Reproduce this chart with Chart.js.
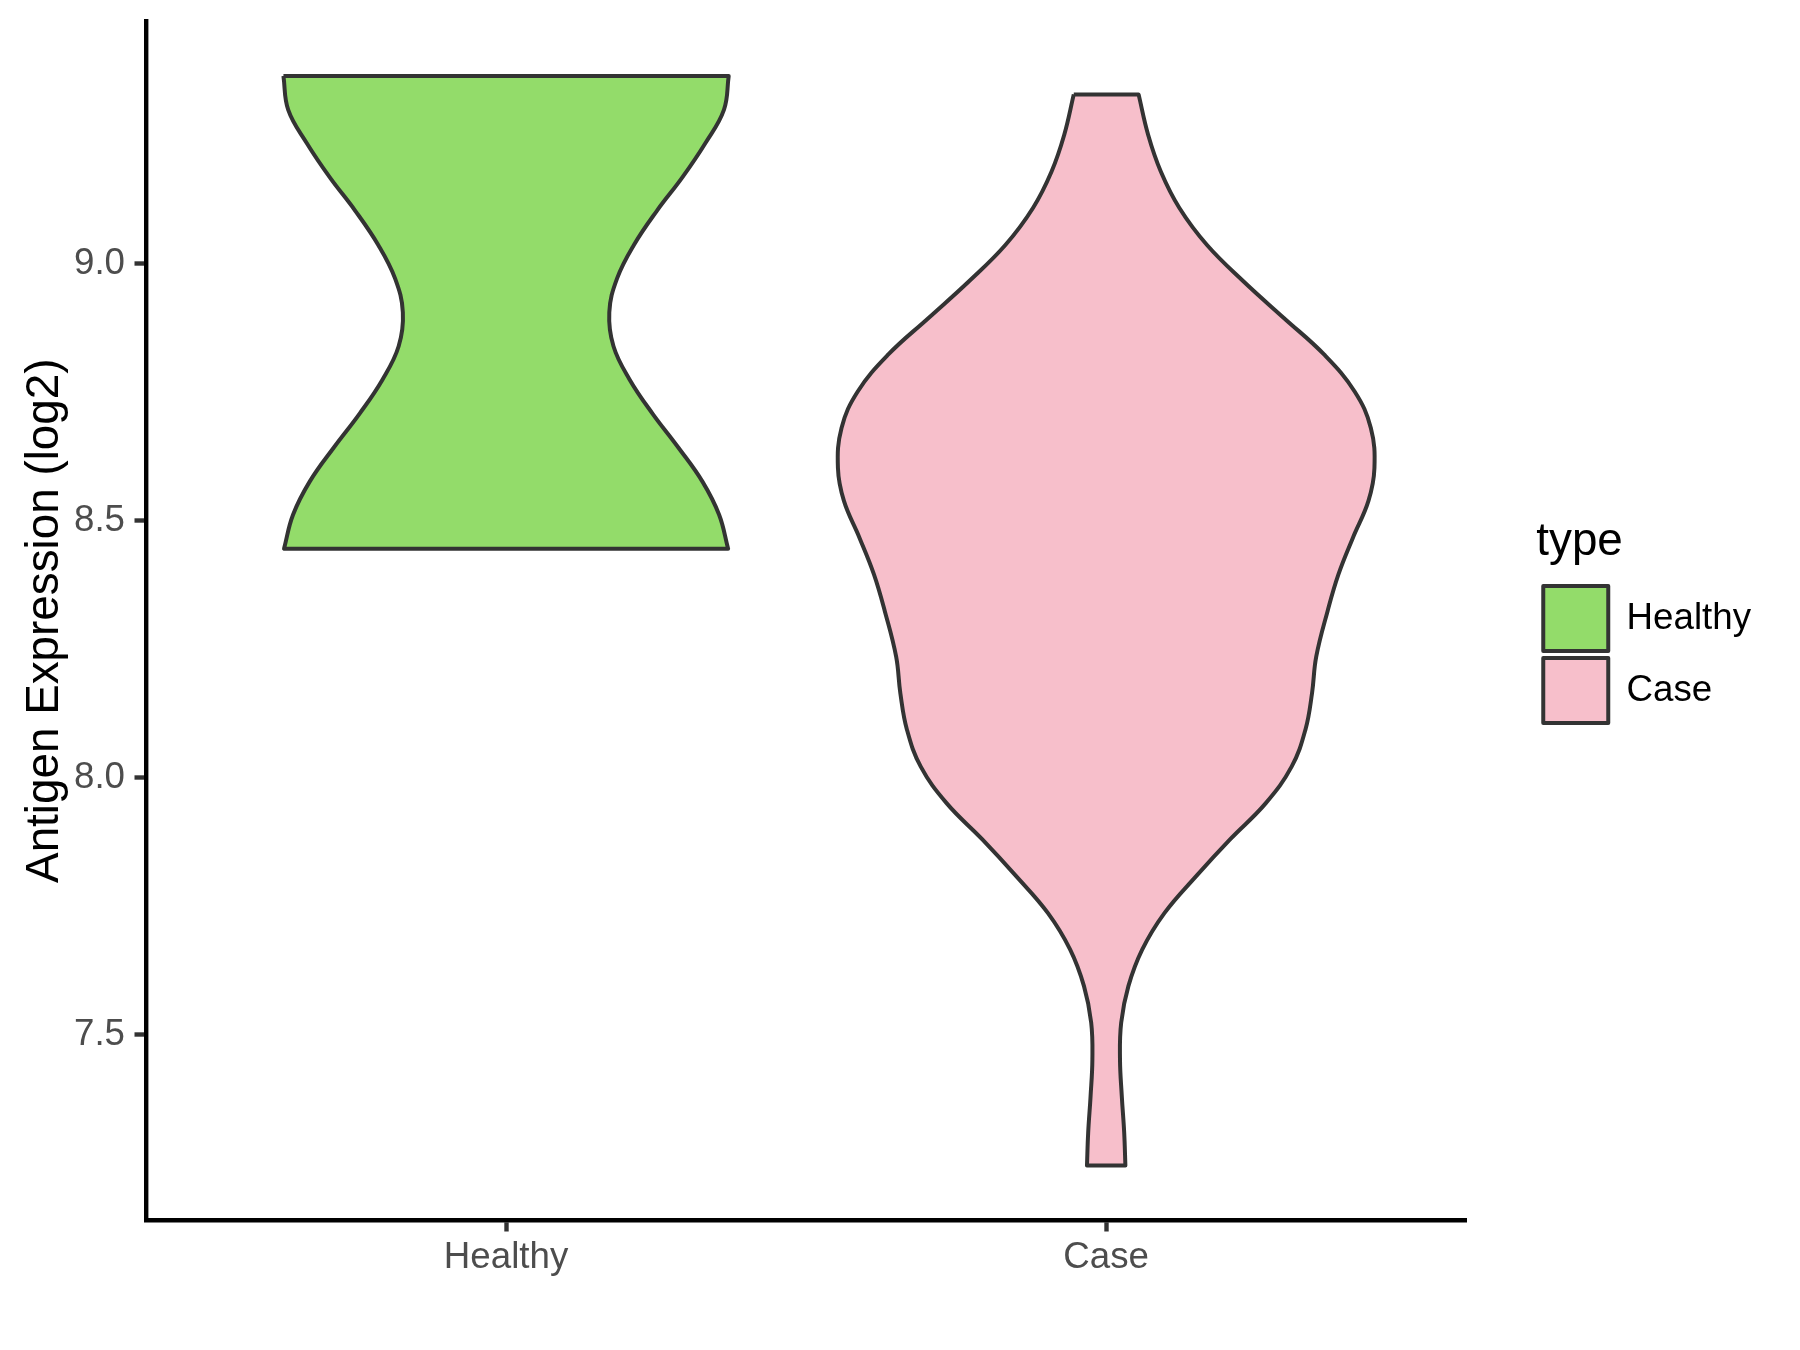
<!DOCTYPE html>
<html>
<head>
<meta charset="utf-8">
<script src="https://cdn.jsdelivr.net/npm/chart.js@4.4.1/dist/chart.umd.min.js"></script>
<style>
  body { margin: 0; background: #ffffff; }
</style>
</head>
<body>
<canvas id="violin-chart" width="1800" height="1350"></canvas>
<script>
// Groups on the x axis
const categories = ["Healthy", "Case"];

// Violin profiles: expression value (log2), top to bottom, and half width in x units
const healthyValues = [9.366, 9.300, 9.235, 9.169, 9.103, 9.037, 8.972, 8.906,
  8.840, 8.775, 8.709, 8.643, 8.577, 8.512, 8.446];
const healthyHalfWidths = [0.371, 0.363, 0.332, 0.294, 0.251, 0.213, 0.185, 0.172,
  0.179, 0.206, 0.244, 0.287, 0.327, 0.355, 0.370];

const caseValues = [9.330, 9.251, 9.180, 9.109, 9.037, 8.966, 8.895, 8.824, 8.752, 8.681,
  8.603, 8.539, 8.467, 8.396, 8.325, 8.236, 8.165, 8.094, 8.022, 7.951,
  7.880, 7.809, 7.737, 7.666, 7.595, 7.524, 7.453, 7.381, 7.310, 7.246];
const caseHalfWidths = [0.054, 0.070, 0.091, 0.122, 0.168, 0.229, 0.296, 0.363, 0.414, 0.441,
  0.447, 0.437, 0.411, 0.387, 0.369, 0.350, 0.343, 0.332, 0.309, 0.266,
  0.206, 0.150, 0.097, 0.060, 0.037, 0.025, 0.023, 0.026, 0.030, 0.032];

// Y axis tick labels
const yTicks = [7.5, 8.0, 8.5, 9.0];

// Closed outline: down the left side, across the bottom, up the right side
function violinOutline(center, values, halfWidths) {
  const left = values.map((v, i) => ({ x: center - halfWidths[i], y: v }));
  const right = values.map((v, i) => ({ x: center + halfWidths[i], y: v })).reverse();
  const last = left.length - 1;
  // corner points are repeated so the flat ends stay straight with tension on
  return [...left, left[last], right[0], ...right, right[last], left[0]];
}

Chart.defaults.font.family = '"Liberation Sans", Arial, sans-serif';

function violinDataset(label, index, values, halfWidths, color) {
  return {
    label: label,
    data: violinOutline(index + 1, values, halfWidths),
    showLine: true,
    fill: "shape",
    indexAxis: "y",
    backgroundColor: color,
    borderColor: "#333333",
    borderWidth: 4,
    borderJoinStyle: "round",
    tension: 0.4,
    pointRadius: 0,
    pointHoverRadius: 0,
  };
}

const axisGrid = {
  display: true,
  drawOnChartArea: false,
  drawTicks: true,
  tickLength: 11.5,
  tickWidth: 4.4,
  tickColor: "#333333",
};

const ctx = document.getElementById("violin-chart").getContext("2d");
window.violinChart = new Chart(ctx, {
  type: "scatter",
  data: {
    datasets: [
      violinDataset("Healthy", 0, healthyValues, healthyHalfWidths, "#93DC6A"),
      violinDataset("Case", 1, caseValues, caseHalfWidths, "#F7BFCB"),
    ],
  },
  options: {
    responsive: false,
    animation: false,
    devicePixelRatio: 1,
    layout: {
      padding: { top: 21.4, right: 39, bottom: 0, left: 0 },
    },
    scales: {
      x: {
        type: "linear",
        min: 0.4,
        max: 2.6,
        afterBuildTicks: (scale) => {
          scale.ticks = categories.map((c, i) => ({ value: i + 1 }));
        },
        afterFit: (scale) => {
          scale.height = 130;
          scale.paddingLeft = 0;
          scale.paddingRight = 0;
        },
        ticks: {
          callback: (value) => categories[value - 1],
          color: "#4D4D4D",
          font: { size: 36.7 },
          padding: 4,
          autoSkip: false,
          maxRotation: 0,
        },
        grid: axisGrid,
        border: { display: true, color: "#000000", width: 4.4 },
      },
      y: {
        type: "linear",
        min: 7.14,
        max: 9.472,
        afterBuildTicks: (scale) => {
          scale.ticks = yTicks.map((v) => ({ value: v }));
        },
        afterFit: (scale) => {
          scale.width = 146;
          scale.paddingTop = 0;
          scale.paddingBottom = 0;
        },
        ticks: {
          callback: (value) => value.toFixed(1),
          color: "#4D4D4D",
          font: { size: 36.7 },
          padding: 9.5,
        },
        grid: axisGrid,
        border: { display: true, color: "#000000", width: 4.4 },
        title: {
          display: true,
          text: "Antigen Expression (log2)",
          color: "#000000",
          font: { size: 45.8 },
          padding: { top: 18, bottom: 0 },
        },
      },
      // empty right axis: keeps the gap between the panel and the legend
      gap: {
        type: "linear",
        position: "right",
        display: true,
        grid: { display: false },
        border: { display: false },
        ticks: { display: false },
        afterFit: (scale) => {
          scale.width = 70;
        },
      },
    },
    plugins: {
      legend: {
        display: true,
        position: "right",
        fullSize: false,
        align: "center",
        title: {
          display: true,
          text: "type",
          position: "start",
          color: "#000000",
          font: { size: 45.8 },
          padding: { top: 7.7, bottom: 4.9 },
        },
        labels: {
          boxWidth: 65,
          boxHeight: 65,
          padding: 7,
          color: "#000000",
          font: { size: 36.7 },
        },
      },
      tooltip: { enabled: false },
    },
  },
});
</script>
</body>
</html>
